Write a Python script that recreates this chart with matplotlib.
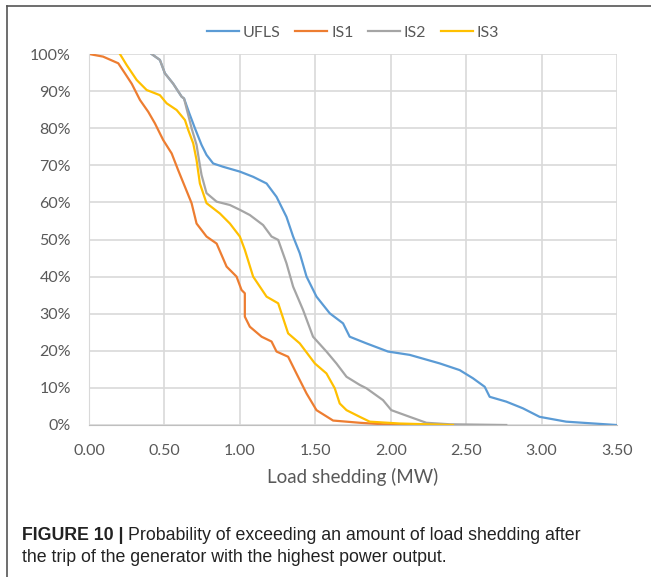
import matplotlib.pyplot as plt
from matplotlib.lines import Line2D
from matplotlib.ticker import FuncFormatter

# curves (load shedding MW, probability %)
ufls_x = [0.415, 0.47, 0.503, 0.558, 0.614, 0.630, 0.665, 0.702, 0.746, 0.779, 0.823, 0.889,
          1.0, 1.088, 1.177, 1.243, 1.309, 1.353, 1.397, 1.442, 1.508, 1.596, 1.684, 1.728,
          1.839, 1.982, 2.126, 2.325, 2.457, 2.545, 2.623, 2.656, 2.766, 2.876, 2.987,
          3.163, 3.495]
ufls_y = [100, 98.4, 94.8, 92, 88.5, 88, 84, 80, 75.5, 72.8, 70.5, 69.6,
          68.3, 66.9, 65.1, 61.5, 56.1, 50.8, 46.3, 40, 34.6, 30.1, 27.4, 23.8,
          22, 19.8, 18.9, 16.6, 14.8, 12.6, 10.3, 7.6, 6.3, 4.5, 2.2,
          0.9, 0]

is1_x = [0.0, 0.093, 0.194, 0.238, 0.283, 0.338, 0.393, 0.437, 0.492, 0.548, 0.591, 0.636,
         0.680, 0.713, 0.779, 0.846, 0.912, 0.978, 1.011, 1.033, 1.033, 1.066, 1.144, 1.21,
         1.243, 1.32, 1.375, 1.442, 1.508, 1.618, 1.795, 1.949, 2.148]
is1_y = [100, 99.3, 97.5, 94.8, 92, 87.6, 84.4, 81.3, 76.8, 73.2, 68.7, 64.2,
         59.8, 54.3, 50.8, 48.9, 42.7, 40, 36.4, 35.5, 29.2, 26.5, 23.8, 22.5,
         19.8, 18.4, 13.9, 8.5, 4, 1.2, 0.6, 0.2, 0]

is2_x = [0.415, 0.47, 0.503, 0.558, 0.614, 0.630, 0.655, 0.680, 0.713, 0.735, 0.746, 0.779,
         0.846, 0.934, 1.0, 1.066, 1.154, 1.21, 1.254, 1.309, 1.353, 1.419, 1.485, 1.574,
         1.640, 1.707, 1.795, 1.839, 1.949, 2.004, 2.126, 2.236, 2.391, 2.766]
is2_y = [100, 98.4, 94.8, 92, 88.5, 88, 84, 80, 75.5, 70, 67.4, 62.5,
         60.2, 59.3, 58, 56.6, 53.9, 50.8, 49.9, 43.6, 37.3, 31, 23.8, 19.8,
         16.6, 13, 10.8, 9.9, 6.7, 4, 2.2, 0.6, 0.2, 0]

is3_x = [0.205, 0.25, 0.316, 0.382, 0.470, 0.515, 0.581, 0.636, 0.658, 0.691, 0.713, 0.735,
         0.779, 0.868, 0.934, 1.0, 1.033, 1.088, 1.177, 1.254, 1.32, 1.397, 1.497, 1.574,
         1.629, 1.662, 1.707, 1.795, 1.861, 2.06, 2.413]
is3_y = [100, 97, 93, 90.3, 88.9, 86.7, 84.9, 82.2, 79.5, 75.9, 71.4, 65.1,
         59.8, 57, 54.3, 50.8, 47.2, 40, 34.6, 32.8, 24.7, 22, 16.6, 13.9,
         9.9, 5.8, 4, 2.2, 0.9, 0.4, 0]

series = [("UFLS", ufls_x, ufls_y, "#5B9BD5"),
          ("IS1", is1_x, is1_y, "#ED7D31"),
          ("IS2", is2_x, is2_y, "#A5A5A5"),
          ("IS3", is3_x, is3_y, "#FFC000")]

x_ticks = [0.0, 0.5, 1.0, 1.5, 2.0, 2.5, 3.0, 3.5]
y_ticks = [0, 10, 20, 30, 40, 50, 60, 70, 80, 90, 100]

plt.rcParams['font.family'] = ['Lato', 'DejaVu Sans']

fig = plt.figure(figsize=(6.51, 5.77), dpi=100)
ax = fig.add_axes([89 / 651, 1 - 425 / 577, 528 / 651, 371 / 577])

for name, xs, ys, col in series:
    ax.plot(xs, ys, color=col, lw=1.6, label=name)

ax.set_xlim(0, 3.5)
ax.set_ylim(0, 100)
ax.set_xticks(x_ticks)
ax.set_yticks(y_ticks)
ax.xaxis.set_major_formatter(FuncFormatter(lambda v, p: f"{v:.2f}"))
ax.yaxis.set_major_formatter(FuncFormatter(lambda v, p: f"{v:.0f}%"))
ax.grid(True, color="#D9D9D9", lw=1.2)
ax.set_axisbelow(True)
for s in ["top", "right"]:
    ax.spines[s].set_visible(False)
ax.spines["left"].set_color("#D9D9D9")
ax.spines["bottom"].set_color("#BFBFBF")
ax.tick_params(length=0, labelsize=11.5, colors="#595959")
ax.tick_params(axis="x", pad=14)
ax.tick_params(axis="y", pad=13)
ax.set_xlabel("Load shedding (MW)", fontsize=13.5, color="#595959", labelpad=7)

ax.legend(loc="lower center", bbox_to_anchor=(0.5, 1.0), ncol=4, frameon=False,
          fontsize=11.5, handlelength=2.0, handletextpad=0.25, columnspacing=0.9,
          labelcolor="#595959")

# frame border (top and left edges visible)
fig.add_artist(Line2D([7 / 651, 7 / 651], [0, 1 - 6 / 577], transform=fig.transFigure,
                      color="#555555", lw=1.2))
fig.add_artist(Line2D([7 / 651, 1], [1 - 6 / 577, 1 - 6 / 577], transform=fig.transFigure,
                      color="#555555", lw=1.2))

cap_font = ['Liberation Sans', 'DejaVu Sans']
cap_size = 12.8
bold = fig.text(22 / 651, 1 - 535 / 577, "FIGURE 10 |", fontsize=cap_size, fontweight="bold",
                family=cap_font, va="center", color="#222222")
fig.canvas.draw()
bb = bold.get_window_extent(renderer=fig.canvas.get_renderer())
fig.text((bb.x1 + 4) / 651, 1 - 535 / 577,
         "Probability of exceeding an amount of load shedding after",
         fontsize=cap_size, family=cap_font, va="center", color="#222222")
fig.text(22 / 651, 1 - 558 / 577,
         "the trip of the generator with the highest power output.",
         fontsize=cap_size, family=cap_font, va="center", color="#222222")

fig.savefig("out.png", dpi=100)
